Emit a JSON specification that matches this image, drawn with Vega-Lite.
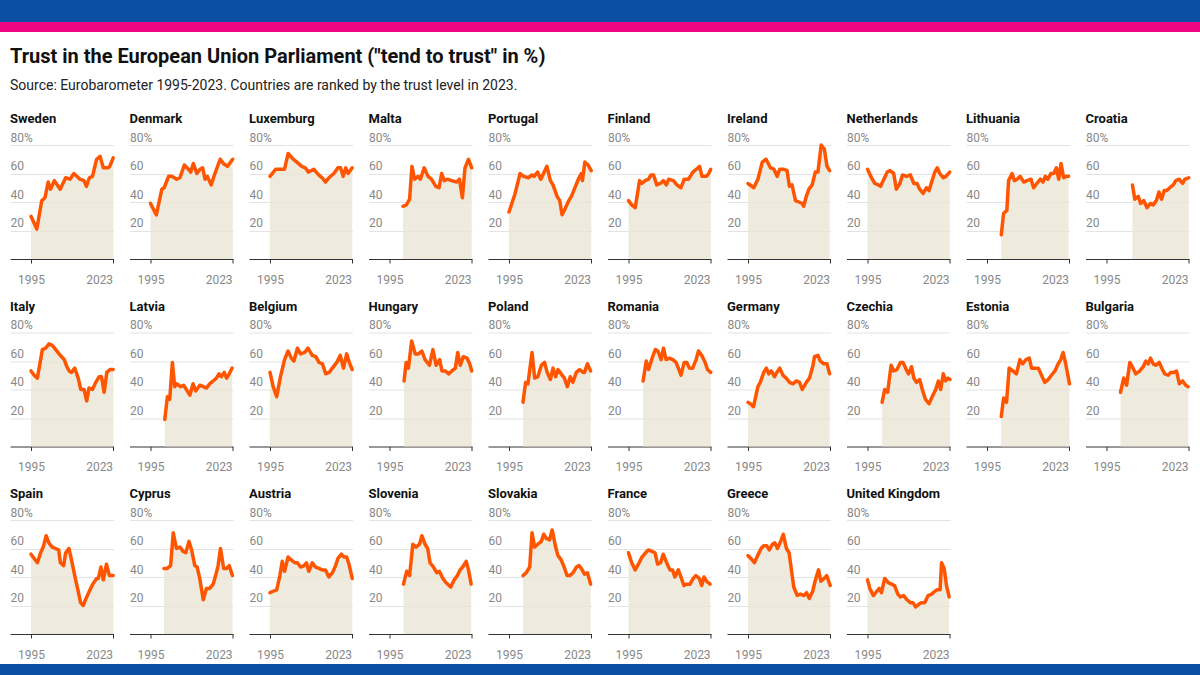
{
"$schema": "https://vega.github.io/schema/vega-lite/v6.json",
"background": "white",
"padding": 0,
"spacing": 0,
"config": {"font": "Roboto", "view": {"stroke": null}},
"vconcat": [
{"width": 1200, "height": 22, "data": {"values": [{"band": "top"}]}, "mark": {"type": "rect", "color": "#0b4ea2"}},
{"width": 1200, "height": 10, "data": {"values": [{"band": "stripe"}]}, "mark": {"type": "rect", "color": "#f0047f"}},
{"width": 1200, "height": 15, "data": {"values": [{"band": "gap"}]}, "mark": {"type": "rect", "opacity": 0}},
{"spacing": 9, "hconcat": [
{"width": 1, "height": 1, "data": {"values": [{"band": "gap"}]}, "mark": {"type": "rect", "opacity": 0}},
{
"title": {"text": "Trust in the European Union Parliament (\"tend to trust\" in %)", "subtitle": "Source: Eurobarometer 1995-2023. Countries are ranked by the trust level in 2023.", "anchor": "start", "font": "Roboto", "fontSize": 20, "fontWeight": "bold", "color": "#111111", "subtitleFont": "Roboto", "subtitleFontSize": 14, "subtitleColor": "#222222", "subtitlePadding": 12, "offset": 20},
"data": {"values": [
{"country":"Sweden","year":1995,"trust":30},{"country":"Sweden","year":1997,"trust":21},{"country":"Sweden","year":1998.7,"trust":41},{"country":"Sweden","year":1999.8,"trust":43},{"country":"Sweden","year":2000.9,"trust":54},{"country":"Sweden","year":2001.7,"trust":49},{"country":"Sweden","year":2003,"trust":55},{"country":"Sweden","year":2005,"trust":49},{"country":"Sweden","year":2006.9,"trust":57},{"country":"Sweden","year":2008.4,"trust":56},{"country":"Sweden","year":2009.7,"trust":60},{"country":"Sweden","year":2011.8,"trust":56},{"country":"Sweden","year":2013.2,"trust":55},{"country":"Sweden","year":2014,"trust":51},{"country":"Sweden","year":2015,"trust":57},{"country":"Sweden","year":2016.1,"trust":58},{"country":"Sweden","year":2017.5,"trust":70},{"country":"Sweden","year":2018.7,"trust":72},{"country":"Sweden","year":2019.8,"trust":64},{"country":"Sweden","year":2021.5,"trust":64},{"country":"Sweden","year":2022,"trust":65},{"country":"Sweden","year":2023.2,"trust":71},
{"country":"Denmark","year":1995,"trust":39},{"country":"Denmark","year":1997,"trust":31},{"country":"Denmark","year":1998.9,"trust":49},{"country":"Denmark","year":1999.7,"trust":50},{"country":"Denmark","year":2001.2,"trust":58},{"country":"Denmark","year":2002.3,"trust":58},{"country":"Denmark","year":2004,"trust":56},{"country":"Denmark","year":2005.1,"trust":57},{"country":"Denmark","year":2006.6,"trust":66},{"country":"Denmark","year":2008,"trust":63},{"country":"Denmark","year":2008.8,"trust":61},{"country":"Denmark","year":2009.7,"trust":67},{"country":"Denmark","year":2010.9,"trust":60},{"country":"Denmark","year":2012,"trust":63},{"country":"Denmark","year":2012.9,"trust":64},{"country":"Denmark","year":2013.7,"trust":56},{"country":"Denmark","year":2014.5,"trust":58},{"country":"Denmark","year":2015.8,"trust":52},{"country":"Denmark","year":2017.1,"trust":60},{"country":"Denmark","year":2018.9,"trust":70},{"country":"Denmark","year":2020,"trust":67},{"country":"Denmark","year":2021.4,"trust":65},{"country":"Denmark","year":2023.2,"trust":70},
{"country":"Luxemburg","year":1995,"trust":58},{"country":"Luxemburg","year":1997,"trust":63},{"country":"Luxemburg","year":1998.1,"trust":63},{"country":"Luxemburg","year":2000,"trust":63},{"country":"Luxemburg","year":2001.2,"trust":74},{"country":"Luxemburg","year":2003,"trust":70},{"country":"Luxemburg","year":2004.2,"trust":68},{"country":"Luxemburg","year":2005.9,"trust":65},{"country":"Luxemburg","year":2007.1,"trust":64},{"country":"Luxemburg","year":2008.2,"trust":61},{"country":"Luxemburg","year":2010,"trust":63},{"country":"Luxemburg","year":2011.7,"trust":59},{"country":"Luxemburg","year":2012.9,"trust":57},{"country":"Luxemburg","year":2014,"trust":54},{"country":"Luxemburg","year":2015.2,"trust":57},{"country":"Luxemburg","year":2016.9,"trust":60},{"country":"Luxemburg","year":2018.3,"trust":64},{"country":"Luxemburg","year":2019.2,"trust":64},{"country":"Luxemburg","year":2020.1,"trust":58},{"country":"Luxemburg","year":2021,"trust":64},{"country":"Luxemburg","year":2021.8,"trust":60},{"country":"Luxemburg","year":2023.2,"trust":64},
{"country":"Malta","year":1999.6,"trust":37},{"country":"Malta","year":2000.8,"trust":38},{"country":"Malta","year":2001.9,"trust":42},{"country":"Malta","year":2002.7,"trust":65},{"country":"Malta","year":2003.6,"trust":56},{"country":"Malta","year":2004.8,"trust":58},{"country":"Malta","year":2005.6,"trust":56},{"country":"Malta","year":2006.9,"trust":64},{"country":"Malta","year":2008.2,"trust":58},{"country":"Malta","year":2009.4,"trust":56},{"country":"Malta","year":2010.9,"trust":51},{"country":"Malta","year":2012,"trust":50},{"country":"Malta","year":2012.9,"trust":60},{"country":"Malta","year":2013.8,"trust":55},{"country":"Malta","year":2014.8,"trust":56},{"country":"Malta","year":2016.3,"trust":55},{"country":"Malta","year":2018,"trust":54},{"country":"Malta","year":2019,"trust":56},{"country":"Malta","year":2020,"trust":43},{"country":"Malta","year":2020.9,"trust":64},{"country":"Malta","year":2022.1,"trust":70},{"country":"Malta","year":2023.2,"trust":64},
{"country":"Portugal","year":1995,"trust":33},{"country":"Portugal","year":1997.1,"trust":46},{"country":"Portugal","year":1998.8,"trust":60},{"country":"Portugal","year":2000,"trust":58},{"country":"Portugal","year":2001.7,"trust":57},{"country":"Portugal","year":2002.8,"trust":59},{"country":"Portugal","year":2003.6,"trust":58},{"country":"Portugal","year":2004.8,"trust":61},{"country":"Portugal","year":2005.9,"trust":56},{"country":"Portugal","year":2008,"trust":65},{"country":"Portugal","year":2009.2,"trust":55},{"country":"Portugal","year":2010.1,"trust":52},{"country":"Portugal","year":2011.5,"trust":44},{"country":"Portugal","year":2012.4,"trust":41},{"country":"Portugal","year":2013.2,"trust":31},{"country":"Portugal","year":2014.4,"trust":36},{"country":"Portugal","year":2015.5,"trust":41},{"country":"Portugal","year":2016.4,"trust":44},{"country":"Portugal","year":2017.8,"trust":51},{"country":"Portugal","year":2019,"trust":57},{"country":"Portugal","year":2019.8,"trust":60},{"country":"Portugal","year":2020.2,"trust":55},{"country":"Portugal","year":2021,"trust":68},{"country":"Portugal","year":2022.1,"trust":66},{"country":"Portugal","year":2023.2,"trust":62},
{"country":"Finland","year":1995,"trust":41},{"country":"Finland","year":1996.1,"trust":38},{"country":"Finland","year":1997.3,"trust":36},{"country":"Finland","year":1998.8,"trust":55},{"country":"Finland","year":1999.6,"trust":53},{"country":"Finland","year":2000.7,"trust":55},{"country":"Finland","year":2001.9,"trust":56},{"country":"Finland","year":2002.7,"trust":59},{"country":"Finland","year":2003.6,"trust":59},{"country":"Finland","year":2004.7,"trust":52},{"country":"Finland","year":2005.9,"trust":53},{"country":"Finland","year":2007,"trust":55},{"country":"Finland","year":2008,"trust":52},{"country":"Finland","year":2008.8,"trust":56},{"country":"Finland","year":2010.4,"trust":55},{"country":"Finland","year":2011.6,"trust":52},{"country":"Finland","year":2013,"trust":50},{"country":"Finland","year":2014.1,"trust":56},{"country":"Finland","year":2015.6,"trust":56},{"country":"Finland","year":2017.1,"trust":61},{"country":"Finland","year":2018.3,"trust":63},{"country":"Finland","year":2019.4,"trust":65},{"country":"Finland","year":2020.2,"trust":58},{"country":"Finland","year":2021.7,"trust":58},{"country":"Finland","year":2022.5,"trust":60},{"country":"Finland","year":2023.2,"trust":63},
{"country":"Ireland","year":1995,"trust":53},{"country":"Ireland","year":1997,"trust":50},{"country":"Ireland","year":1998.4,"trust":56},{"country":"Ireland","year":1999.9,"trust":68},{"country":"Ireland","year":2001.2,"trust":70},{"country":"Ireland","year":2002.7,"trust":64},{"country":"Ireland","year":2003.9,"trust":63},{"country":"Ireland","year":2005,"trust":58},{"country":"Ireland","year":2005.9,"trust":63},{"country":"Ireland","year":2007.3,"trust":63},{"country":"Ireland","year":2008.4,"trust":62},{"country":"Ireland","year":2009.2,"trust":51},{"country":"Ireland","year":2010.1,"trust":52},{"country":"Ireland","year":2011.3,"trust":41},{"country":"Ireland","year":2012.4,"trust":40},{"country":"Ireland","year":2013.6,"trust":39},{"country":"Ireland","year":2014.1,"trust":37},{"country":"Ireland","year":2015,"trust":44},{"country":"Ireland","year":2015.9,"trust":49},{"country":"Ireland","year":2017,"trust":52},{"country":"Ireland","year":2018.1,"trust":61},{"country":"Ireland","year":2019,"trust":61},{"country":"Ireland","year":2020.1,"trust":80},{"country":"Ireland","year":2021.2,"trust":77},{"country":"Ireland","year":2022.1,"trust":65},{"country":"Ireland","year":2023,"trust":62},
{"country":"Netherlands","year":1995,"trust":63},{"country":"Netherlands","year":1996.4,"trust":57},{"country":"Netherlands","year":1997.5,"trust":53},{"country":"Netherlands","year":1998.7,"trust":52},{"country":"Netherlands","year":1999.5,"trust":51},{"country":"Netherlands","year":2000.6,"trust":56},{"country":"Netherlands","year":2001.8,"trust":61},{"country":"Netherlands","year":2002.7,"trust":62},{"country":"Netherlands","year":2004,"trust":60},{"country":"Netherlands","year":2004.9,"trust":49},{"country":"Netherlands","year":2006.1,"trust":53},{"country":"Netherlands","year":2007,"trust":59},{"country":"Netherlands","year":2008.4,"trust":58},{"country":"Netherlands","year":2009.7,"trust":59},{"country":"Netherlands","year":2010.9,"trust":53},{"country":"Netherlands","year":2012,"trust":53},{"country":"Netherlands","year":2012.9,"trust":49},{"country":"Netherlands","year":2014.1,"trust":46},{"country":"Netherlands","year":2015.2,"trust":50},{"country":"Netherlands","year":2016.1,"trust":48},{"country":"Netherlands","year":2017.3,"trust":56},{"country":"Netherlands","year":2018.1,"trust":61},{"country":"Netherlands","year":2018.9,"trust":64},{"country":"Netherlands","year":2019.8,"trust":60},{"country":"Netherlands","year":2021,"trust":57},{"country":"Netherlands","year":2021.9,"trust":58},{"country":"Netherlands","year":2023.2,"trust":61},
{"country":"Lithuania","year":1999.9,"trust":17},{"country":"Lithuania","year":2000.7,"trust":32},{"country":"Lithuania","year":2001.8,"trust":34},{"country":"Lithuania","year":2002.4,"trust":55},{"country":"Lithuania","year":2003.6,"trust":60},{"country":"Lithuania","year":2004.4,"trust":55},{"country":"Lithuania","year":2005.3,"trust":56},{"country":"Lithuania","year":2006.4,"trust":58},{"country":"Lithuania","year":2007.6,"trust":54},{"country":"Lithuania","year":2008.7,"trust":55},{"country":"Lithuania","year":2010.1,"trust":56},{"country":"Lithuania","year":2011,"trust":50},{"country":"Lithuania","year":2012.1,"trust":53},{"country":"Lithuania","year":2013.3,"trust":56},{"country":"Lithuania","year":2014.2,"trust":54},{"country":"Lithuania","year":2015,"trust":58},{"country":"Lithuania","year":2015.9,"trust":56},{"country":"Lithuania","year":2016.9,"trust":60},{"country":"Lithuania","year":2017.9,"trust":60},{"country":"Lithuania","year":2018.8,"trust":64},{"country":"Lithuania","year":2019.6,"trust":56},{"country":"Lithuania","year":2020.4,"trust":67},{"country":"Lithuania","year":2021.3,"trust":57},{"country":"Lithuania","year":2022.2,"trust":58},{"country":"Lithuania","year":2023,"trust":58},
{"country":"Croatia","year":2003.9,"trust":52},{"country":"Croatia","year":2004.7,"trust":42},{"country":"Croatia","year":2005.9,"trust":44},{"country":"Croatia","year":2006.7,"trust":39},{"country":"Croatia","year":2007.8,"trust":41},{"country":"Croatia","year":2008.9,"trust":36},{"country":"Croatia","year":2010.1,"trust":39},{"country":"Croatia","year":2011,"trust":38},{"country":"Croatia","year":2012.1,"trust":41},{"country":"Croatia","year":2013,"trust":47},{"country":"Croatia","year":2013.9,"trust":42},{"country":"Croatia","year":2014.8,"trust":48},{"country":"Croatia","year":2015.6,"trust":48},{"country":"Croatia","year":2016.7,"trust":50},{"country":"Croatia","year":2017.9,"trust":52},{"country":"Croatia","year":2018.8,"trust":55},{"country":"Croatia","year":2019.9,"trust":56},{"country":"Croatia","year":2021.1,"trust":53},{"country":"Croatia","year":2021.9,"trust":56},{"country":"Croatia","year":2023.2,"trust":57},
{"country":"Italy","year":1995,"trust":53},{"country":"Italy","year":1996.1,"trust":50},{"country":"Italy","year":1997.2,"trust":48},{"country":"Italy","year":1998.9,"trust":68},{"country":"Italy","year":2000,"trust":69},{"country":"Italy","year":2001.2,"trust":72},{"country":"Italy","year":2002.3,"trust":71},{"country":"Italy","year":2003.5,"trust":68},{"country":"Italy","year":2005,"trust":64},{"country":"Italy","year":2006.4,"trust":61},{"country":"Italy","year":2007.3,"trust":56},{"country":"Italy","year":2008.1,"trust":53},{"country":"Italy","year":2008.9,"trust":52},{"country":"Italy","year":2010,"trust":55},{"country":"Italy","year":2011.2,"trust":48},{"country":"Italy","year":2012.1,"trust":40},{"country":"Italy","year":2013.2,"trust":40},{"country":"Italy","year":2014.1,"trust":32},{"country":"Italy","year":2014.9,"trust":41},{"country":"Italy","year":2016.1,"trust":40},{"country":"Italy","year":2017.2,"trust":45},{"country":"Italy","year":2018.4,"trust":49},{"country":"Italy","year":2019.2,"trust":49},{"country":"Italy","year":2020.1,"trust":38},{"country":"Italy","year":2021,"trust":52},{"country":"Italy","year":2022.1,"trust":54},{"country":"Italy","year":2023.2,"trust":54},
{"country":"Latvia","year":1999.9,"trust":19},{"country":"Latvia","year":2000.8,"trust":35},{"country":"Latvia","year":2001.6,"trust":33},{"country":"Latvia","year":2002.5,"trust":59},{"country":"Latvia","year":2003.3,"trust":42},{"country":"Latvia","year":2004.1,"trust":44},{"country":"Latvia","year":2005.3,"trust":42},{"country":"Latvia","year":2006.4,"trust":43},{"country":"Latvia","year":2007.6,"trust":39},{"country":"Latvia","year":2008.5,"trust":36},{"country":"Latvia","year":2009.6,"trust":44},{"country":"Latvia","year":2010.5,"trust":39},{"country":"Latvia","year":2011.9,"trust":43},{"country":"Latvia","year":2013.1,"trust":42},{"country":"Latvia","year":2014.2,"trust":41},{"country":"Latvia","year":2015.3,"trust":44},{"country":"Latvia","year":2016.5,"trust":46},{"country":"Latvia","year":2017.6,"trust":48},{"country":"Latvia","year":2018.5,"trust":51},{"country":"Latvia","year":2019.3,"trust":49},{"country":"Latvia","year":2020.3,"trust":52},{"country":"Latvia","year":2021.1,"trust":48},{"country":"Latvia","year":2022,"trust":51},{"country":"Latvia","year":2023,"trust":55},
{"country":"Belgium","year":1995,"trust":52},{"country":"Belgium","year":1996.1,"trust":42},{"country":"Belgium","year":1997.3,"trust":35},{"country":"Belgium","year":1998.6,"trust":49},{"country":"Belgium","year":2000,"trust":61},{"country":"Belgium","year":2001.2,"trust":67},{"country":"Belgium","year":2002.3,"trust":62},{"country":"Belgium","year":2003.2,"trust":60},{"country":"Belgium","year":2004.4,"trust":69},{"country":"Belgium","year":2005.5,"trust":65},{"country":"Belgium","year":2006.9,"trust":66},{"country":"Belgium","year":2008,"trust":69},{"country":"Belgium","year":2009.5,"trust":64},{"country":"Belgium","year":2010.7,"trust":63},{"country":"Belgium","year":2011.8,"trust":59},{"country":"Belgium","year":2013,"trust":58},{"country":"Belgium","year":2014.1,"trust":51},{"country":"Belgium","year":2015.3,"trust":52},{"country":"Belgium","year":2016.4,"trust":55},{"country":"Belgium","year":2017.9,"trust":59},{"country":"Belgium","year":2019.1,"trust":64},{"country":"Belgium","year":2020.2,"trust":55},{"country":"Belgium","year":2021.3,"trust":65},{"country":"Belgium","year":2022.2,"trust":59},{"country":"Belgium","year":2023.2,"trust":54},
{"country":"Hungary","year":2000,"trust":46},{"country":"Hungary","year":2000.7,"trust":59},{"country":"Hungary","year":2001.5,"trust":55},{"country":"Hungary","year":2002.6,"trust":74},{"country":"Hungary","year":2003.8,"trust":65},{"country":"Hungary","year":2004.9,"trust":65},{"country":"Hungary","year":2006.1,"trust":67},{"country":"Hungary","year":2007.2,"trust":61},{"country":"Hungary","year":2008.7,"trust":57},{"country":"Hungary","year":2009.9,"trust":68},{"country":"Hungary","year":2011,"trust":57},{"country":"Hungary","year":2012.2,"trust":61},{"country":"Hungary","year":2013,"trust":53},{"country":"Hungary","year":2014.1,"trust":53},{"country":"Hungary","year":2015.3,"trust":51},{"country":"Hungary","year":2016.4,"trust":53},{"country":"Hungary","year":2017.6,"trust":55},{"country":"Hungary","year":2018.4,"trust":66},{"country":"Hungary","year":2019.3,"trust":57},{"country":"Hungary","year":2020.3,"trust":63},{"country":"Hungary","year":2021.6,"trust":62},{"country":"Hungary","year":2022.5,"trust":58},{"country":"Hungary","year":2023.2,"trust":53},
{"country":"Poland","year":1999.8,"trust":31},{"country":"Poland","year":2000.7,"trust":45},{"country":"Poland","year":2001.5,"trust":44},{"country":"Poland","year":2002.9,"trust":66},{"country":"Poland","year":2003.8,"trust":48},{"country":"Poland","year":2004.9,"trust":49},{"country":"Poland","year":2006.1,"trust":57},{"country":"Poland","year":2007.2,"trust":59},{"country":"Poland","year":2008.1,"trust":52},{"country":"Poland","year":2009.2,"trust":47},{"country":"Poland","year":2010.1,"trust":55},{"country":"Poland","year":2011,"trust":49},{"country":"Poland","year":2011.8,"trust":54},{"country":"Poland","year":2012.9,"trust":51},{"country":"Poland","year":2014,"trust":48},{"country":"Poland","year":2015,"trust":42},{"country":"Poland","year":2016,"trust":49},{"country":"Poland","year":2016.9,"trust":45},{"country":"Poland","year":2018.1,"trust":52},{"country":"Poland","year":2019.2,"trust":54},{"country":"Poland","year":2020.4,"trust":52},{"country":"Poland","year":2020.9,"trust":52},{"country":"Poland","year":2021.9,"trust":58},{"country":"Poland","year":2023,"trust":53},
{"country":"Romania","year":2000,"trust":46},{"country":"Romania","year":2001.1,"trust":60},{"country":"Romania","year":2001.9,"trust":54},{"country":"Romania","year":2003.1,"trust":62},{"country":"Romania","year":2004.2,"trust":68},{"country":"Romania","year":2005.1,"trust":67},{"country":"Romania","year":2006.2,"trust":61},{"country":"Romania","year":2007,"trust":69},{"country":"Romania","year":2007.9,"trust":61},{"country":"Romania","year":2009,"trust":62},{"country":"Romania","year":2010.2,"trust":61},{"country":"Romania","year":2011.3,"trust":59},{"country":"Romania","year":2012.1,"trust":55},{"country":"Romania","year":2013,"trust":50},{"country":"Romania","year":2014.1,"trust":59},{"country":"Romania","year":2015,"trust":59},{"country":"Romania","year":2015.9,"trust":55},{"country":"Romania","year":2017,"trust":55},{"country":"Romania","year":2018.2,"trust":61},{"country":"Romania","year":2019,"trust":67},{"country":"Romania","year":2020.1,"trust":64},{"country":"Romania","year":2021.3,"trust":59},{"country":"Romania","year":2022.1,"trust":54},{"country":"Romania","year":2023.2,"trust":52},
{"country":"Germany","year":1995,"trust":31},{"country":"Germany","year":1995.8,"trust":30},{"country":"Germany","year":1996.9,"trust":28},{"country":"Germany","year":1998.4,"trust":42},{"country":"Germany","year":1999.2,"trust":45},{"country":"Germany","year":2000.4,"trust":52},{"country":"Germany","year":2001.3,"trust":55},{"country":"Germany","year":2002.1,"trust":51},{"country":"Germany","year":2003,"trust":53},{"country":"Germany","year":2004.1,"trust":49},{"country":"Germany","year":2004.9,"trust":52},{"country":"Germany","year":2005.9,"trust":55},{"country":"Germany","year":2007,"trust":50},{"country":"Germany","year":2008.1,"trust":48},{"country":"Germany","year":2009.3,"trust":45},{"country":"Germany","year":2010.4,"trust":44},{"country":"Germany","year":2011.6,"trust":46},{"country":"Germany","year":2012.7,"trust":45},{"country":"Germany","year":2013.6,"trust":40},{"country":"Germany","year":2015,"trust":45},{"country":"Germany","year":2016.1,"trust":48},{"country":"Germany","year":2017.3,"trust":57},{"country":"Germany","year":2017.8,"trust":63},{"country":"Germany","year":2019,"trust":64},{"country":"Germany","year":2019.8,"trust":60},{"country":"Germany","year":2021,"trust":58},{"country":"Germany","year":2022.1,"trust":58},{"country":"Germany","year":2023,"trust":51},
{"country":"Czechia","year":2000,"trust":31},{"country":"Czechia","year":2000.9,"trust":40},{"country":"Czechia","year":2001.9,"trust":38},{"country":"Czechia","year":2003.1,"trust":57},{"country":"Czechia","year":2004,"trust":53},{"country":"Czechia","year":2005.1,"trust":54},{"country":"Czechia","year":2006.3,"trust":59},{"country":"Czechia","year":2007.2,"trust":59},{"country":"Czechia","year":2008.3,"trust":54},{"country":"Czechia","year":2009.1,"trust":51},{"country":"Czechia","year":2010.1,"trust":56},{"country":"Czechia","year":2010.9,"trust":48},{"country":"Czechia","year":2011.8,"trust":45},{"country":"Czechia","year":2012.9,"trust":47},{"country":"Czechia","year":2013.8,"trust":40},{"country":"Czechia","year":2014.9,"trust":33},{"country":"Czechia","year":2016.1,"trust":30},{"country":"Czechia","year":2017.2,"trust":35},{"country":"Czechia","year":2018.4,"trust":40},{"country":"Czechia","year":2019.3,"trust":46},{"country":"Czechia","year":2020.1,"trust":40},{"country":"Czechia","year":2021,"trust":51},{"country":"Czechia","year":2021.8,"trust":46},{"country":"Czechia","year":2022.6,"trust":48},{"country":"Czechia","year":2023.3,"trust":47},
{"country":"Estonia","year":1999.9,"trust":21},{"country":"Estonia","year":2000.7,"trust":34},{"country":"Estonia","year":2001.7,"trust":31},{"country":"Estonia","year":2002.6,"trust":55},{"country":"Estonia","year":2003.9,"trust":53},{"country":"Estonia","year":2005.1,"trust":51},{"country":"Estonia","year":2006.3,"trust":61},{"country":"Estonia","year":2007.2,"trust":58},{"country":"Estonia","year":2008.4,"trust":61},{"country":"Estonia","year":2009.5,"trust":62},{"country":"Estonia","year":2010.3,"trust":55},{"country":"Estonia","year":2011.4,"trust":55},{"country":"Estonia","year":2012.6,"trust":55},{"country":"Estonia","year":2013.7,"trust":50},{"country":"Estonia","year":2014.8,"trust":45},{"country":"Estonia","year":2016,"trust":47},{"country":"Estonia","year":2017.1,"trust":50},{"country":"Estonia","year":2018.3,"trust":53},{"country":"Estonia","year":2019.4,"trust":58},{"country":"Estonia","year":2020.3,"trust":61},{"country":"Estonia","year":2021.1,"trust":66},{"country":"Estonia","year":2022,"trust":58},{"country":"Estonia","year":2023.3,"trust":44},
{"country":"Bulgaria","year":1999.8,"trust":38},{"country":"Bulgaria","year":2000.9,"trust":48},{"country":"Bulgaria","year":2001.9,"trust":43},{"country":"Bulgaria","year":2003,"trust":59},{"country":"Bulgaria","year":2004.1,"trust":55},{"country":"Bulgaria","year":2005,"trust":51},{"country":"Bulgaria","year":2006.4,"trust":53},{"country":"Bulgaria","year":2007.6,"trust":56},{"country":"Bulgaria","year":2008.5,"trust":60},{"country":"Bulgaria","year":2009.3,"trust":58},{"country":"Bulgaria","year":2010.1,"trust":62},{"country":"Bulgaria","year":2011,"trust":58},{"country":"Bulgaria","year":2011.9,"trust":57},{"country":"Bulgaria","year":2013.1,"trust":59},{"country":"Bulgaria","year":2014.2,"trust":54},{"country":"Bulgaria","year":2015,"trust":51},{"country":"Bulgaria","year":2016.2,"trust":50},{"country":"Bulgaria","year":2017,"trust":52},{"country":"Bulgaria","year":2018.1,"trust":52},{"country":"Bulgaria","year":2019,"trust":53},{"country":"Bulgaria","year":2020,"trust":44},{"country":"Bulgaria","year":2021.1,"trust":46},{"country":"Bulgaria","year":2022.2,"trust":43},{"country":"Bulgaria","year":2023,"trust":42},
{"country":"Spain","year":1995,"trust":56},{"country":"Spain","year":1996.1,"trust":53},{"country":"Spain","year":1997.2,"trust":50},{"country":"Spain","year":1998.3,"trust":57},{"country":"Spain","year":1999.2,"trust":61},{"country":"Spain","year":2000.2,"trust":69},{"country":"Spain","year":2001.1,"trust":64},{"country":"Spain","year":2002.3,"trust":61},{"country":"Spain","year":2003.4,"trust":60},{"country":"Spain","year":2004.5,"trust":59},{"country":"Spain","year":2005.1,"trust":50},{"country":"Spain","year":2006.2,"trust":48},{"country":"Spain","year":2006.9,"trust":57},{"country":"Spain","year":2008,"trust":60},{"country":"Spain","year":2008.9,"trust":52},{"country":"Spain","year":2010.1,"trust":40},{"country":"Spain","year":2011.2,"trust":30},{"country":"Spain","year":2012,"trust":22},{"country":"Spain","year":2012.9,"trust":20},{"country":"Spain","year":2013.9,"trust":25},{"country":"Spain","year":2015,"trust":30},{"country":"Spain","year":2016.2,"trust":35},{"country":"Spain","year":2017.5,"trust":39},{"country":"Spain","year":2018.1,"trust":39},{"country":"Spain","year":2019,"trust":47},{"country":"Spain","year":2019.8,"trust":38},{"country":"Spain","year":2020.9,"trust":49},{"country":"Spain","year":2021.9,"trust":41},{"country":"Spain","year":2023.2,"trust":41},
{"country":"Cyprus","year":1999.6,"trust":46},{"country":"Cyprus","year":2000.7,"trust":46},{"country":"Cyprus","year":2001.9,"trust":48},{"country":"Cyprus","year":2002.8,"trust":71},{"country":"Cyprus","year":2003.9,"trust":60},{"country":"Cyprus","year":2005.1,"trust":61},{"country":"Cyprus","year":2006.2,"trust":58},{"country":"Cyprus","year":2007.1,"trust":57},{"country":"Cyprus","year":2008.2,"trust":65},{"country":"Cyprus","year":2009.1,"trust":59},{"country":"Cyprus","year":2010.2,"trust":48},{"country":"Cyprus","year":2011,"trust":47},{"country":"Cyprus","year":2011.9,"trust":39},{"country":"Cyprus","year":2013.1,"trust":24},{"country":"Cyprus","year":2014.2,"trust":32},{"country":"Cyprus","year":2015.3,"trust":32},{"country":"Cyprus","year":2016.5,"trust":35},{"country":"Cyprus","year":2017.6,"trust":43},{"country":"Cyprus","year":2018.2,"trust":48},{"country":"Cyprus","year":2019,"trust":60},{"country":"Cyprus","year":2020.1,"trust":46},{"country":"Cyprus","year":2021.1,"trust":46},{"country":"Cyprus","year":2022,"trust":48},{"country":"Cyprus","year":2023.1,"trust":41},
{"country":"Austria","year":1995,"trust":29},{"country":"Austria","year":1996.1,"trust":30},{"country":"Austria","year":1997.3,"trust":31},{"country":"Austria","year":1998.4,"trust":41},{"country":"Austria","year":1999.2,"trust":51},{"country":"Austria","year":2000,"trust":44},{"country":"Austria","year":2001.2,"trust":54},{"country":"Austria","year":2002.3,"trust":52},{"country":"Austria","year":2003.5,"trust":50},{"country":"Austria","year":2004.4,"trust":50},{"country":"Austria","year":2005.5,"trust":47},{"country":"Austria","year":2006.7,"trust":48},{"country":"Austria","year":2007.5,"trust":50},{"country":"Austria","year":2008.3,"trust":44},{"country":"Austria","year":2009.5,"trust":50},{"country":"Austria","year":2010.6,"trust":47},{"country":"Austria","year":2011.8,"trust":46},{"country":"Austria","year":2012.9,"trust":45},{"country":"Austria","year":2014,"trust":45},{"country":"Austria","year":2015.2,"trust":40},{"country":"Austria","year":2016.4,"trust":43},{"country":"Austria","year":2017.5,"trust":48},{"country":"Austria","year":2018.3,"trust":53},{"country":"Austria","year":2019.5,"trust":56},{"country":"Austria","year":2020.4,"trust":54},{"country":"Austria","year":2021.3,"trust":54},{"country":"Austria","year":2022.1,"trust":49},{"country":"Austria","year":2023.2,"trust":39},
{"country":"Slovenia","year":1999.8,"trust":35},{"country":"Slovenia","year":2000.9,"trust":44},{"country":"Slovenia","year":2001.9,"trust":41},{"country":"Slovenia","year":2003,"trust":63},{"country":"Slovenia","year":2004.1,"trust":61},{"country":"Slovenia","year":2005.3,"trust":63},{"country":"Slovenia","year":2006.1,"trust":69},{"country":"Slovenia","year":2007.2,"trust":63},{"country":"Slovenia","year":2008.1,"trust":60},{"country":"Slovenia","year":2008.9,"trust":50},{"country":"Slovenia","year":2010.1,"trust":47},{"country":"Slovenia","year":2011.2,"trust":43},{"country":"Slovenia","year":2012.1,"trust":44},{"country":"Slovenia","year":2013.3,"trust":39},{"country":"Slovenia","year":2014.4,"trust":36},{"country":"Slovenia","year":2016,"trust":33},{"country":"Slovenia","year":2017.2,"trust":38},{"country":"Slovenia","year":2018.3,"trust":41},{"country":"Slovenia","year":2019.2,"trust":45},{"country":"Slovenia","year":2020.1,"trust":47},{"country":"Slovenia","year":2021.3,"trust":51},{"country":"Slovenia","year":2022.1,"trust":45},{"country":"Slovenia","year":2023,"trust":35},
{"country":"Slovakia","year":1999.8,"trust":41},{"country":"Slovakia","year":2000.9,"trust":43},{"country":"Slovakia","year":2002.1,"trust":47},{"country":"Slovakia","year":2002.9,"trust":71},{"country":"Slovakia","year":2003.8,"trust":61},{"country":"Slovakia","year":2004.9,"trust":63},{"country":"Slovakia","year":2006.1,"trust":65},{"country":"Slovakia","year":2006.9,"trust":70},{"country":"Slovakia","year":2007.8,"trust":67},{"country":"Slovakia","year":2008.9,"trust":66},{"country":"Slovakia","year":2009.8,"trust":73},{"country":"Slovakia","year":2011,"trust":61},{"country":"Slovakia","year":2011.8,"trust":55},{"country":"Slovakia","year":2012.9,"trust":52},{"country":"Slovakia","year":2014.1,"trust":46},{"country":"Slovakia","year":2014.9,"trust":41},{"country":"Slovakia","year":2015.8,"trust":41},{"country":"Slovakia","year":2017,"trust":43},{"country":"Slovakia","year":2018.1,"trust":47},{"country":"Slovakia","year":2019,"trust":48},{"country":"Slovakia","year":2019.8,"trust":46},{"country":"Slovakia","year":2020.9,"trust":42},{"country":"Slovakia","year":2021.9,"trust":43},{"country":"Slovakia","year":2023,"trust":35},
{"country":"France","year":1995,"trust":57},{"country":"France","year":1996.1,"trust":50},{"country":"France","year":1997.3,"trust":45},{"country":"France","year":1998.4,"trust":49},{"country":"France","year":1999.6,"trust":54},{"country":"France","year":2000.9,"trust":57},{"country":"France","year":2001.8,"trust":59},{"country":"France","year":2003,"trust":58},{"country":"France","year":2004.1,"trust":57},{"country":"France","year":2005,"trust":49},{"country":"France","year":2006,"trust":50},{"country":"France","year":2006.9,"trust":56},{"country":"France","year":2008.1,"trust":50},{"country":"France","year":2009.2,"trust":45},{"country":"France","year":2010.1,"trust":45},{"country":"France","year":2010.9,"trust":40},{"country":"France","year":2012.1,"trust":45},{"country":"France","year":2013,"trust":40},{"country":"France","year":2014,"trust":34},{"country":"France","year":2014.9,"trust":35},{"country":"France","year":2016.1,"trust":35},{"country":"France","year":2017.2,"trust":39},{"country":"France","year":2018.1,"trust":41},{"country":"France","year":2019.3,"trust":39},{"country":"France","year":2020.1,"trust":34},{"country":"France","year":2020.9,"trust":40},{"country":"France","year":2021.8,"trust":37},{"country":"France","year":2023,"trust":35},
{"country":"Greece","year":1995,"trust":55},{"country":"Greece","year":1996,"trust":53},{"country":"Greece","year":1997.2,"trust":50},{"country":"Greece","year":1998.3,"trust":55},{"country":"Greece","year":1999.5,"trust":60},{"country":"Greece","year":2000.4,"trust":62},{"country":"Greece","year":2001.4,"trust":62},{"country":"Greece","year":2002.3,"trust":59},{"country":"Greece","year":2003.4,"trust":63},{"country":"Greece","year":2004.2,"trust":64},{"country":"Greece","year":2005.1,"trust":60},{"country":"Greece","year":2006.2,"trust":65},{"country":"Greece","year":2007.1,"trust":70},{"country":"Greece","year":2008.2,"trust":60},{"country":"Greece","year":2009.1,"trust":57},{"country":"Greece","year":2009.9,"trust":45},{"country":"Greece","year":2010.7,"trust":33},{"country":"Greece","year":2011.9,"trust":27},{"country":"Greece","year":2013,"trust":28},{"country":"Greece","year":2014.2,"trust":27},{"country":"Greece","year":2015.1,"trust":29},{"country":"Greece","year":2016,"trust":25},{"country":"Greece","year":2017.2,"trust":30},{"country":"Greece","year":2018,"trust":37},{"country":"Greece","year":2019.2,"trust":45},{"country":"Greece","year":2020,"trust":37},{"country":"Greece","year":2021.1,"trust":39},{"country":"Greece","year":2022,"trust":41},{"country":"Greece","year":2023.2,"trust":34},
{"country":"United Kingdom","year":1995,"trust":38},{"country":"United Kingdom","year":1995.8,"trust":32},{"country":"United Kingdom","year":1997,"trust":27},{"country":"United Kingdom","year":1998.2,"trust":30},{"country":"United Kingdom","year":1999,"trust":32},{"country":"United Kingdom","year":1999.8,"trust":29},{"country":"United Kingdom","year":2000.9,"trust":39},{"country":"United Kingdom","year":2002.1,"trust":36},{"country":"United Kingdom","year":2003.2,"trust":35},{"country":"United Kingdom","year":2004.3,"trust":34},{"country":"United Kingdom","year":2005.4,"trust":28},{"country":"United Kingdom","year":2006.3,"trust":26},{"country":"United Kingdom","year":2007.4,"trust":27},{"country":"United Kingdom","year":2008.6,"trust":24},{"country":"United Kingdom","year":2009.7,"trust":22},{"country":"United Kingdom","year":2010.6,"trust":22},{"country":"United Kingdom","year":2011.5,"trust":19},{"country":"United Kingdom","year":2012.7,"trust":21},{"country":"United Kingdom","year":2013.5,"trust":22},{"country":"United Kingdom","year":2014.6,"trust":22},{"country":"United Kingdom","year":2015.8,"trust":27},{"country":"United Kingdom","year":2017,"trust":28},{"country":"United Kingdom","year":2018.1,"trust":30},{"country":"United Kingdom","year":2018.9,"trust":31},{"country":"United Kingdom","year":2019.9,"trust":31},{"country":"United Kingdom","year":2020.4,"trust":50},{"country":"United Kingdom","year":2021.3,"trust":46},{"country":"United Kingdom","year":2022.1,"trust":34},{"country":"United Kingdom","year":2023,"trust":26}
]},
"facet": {"field": "country", "type": "nominal", "sort": ["Sweden","Denmark","Luxemburg","Malta","Portugal","Finland","Ireland","Netherlands","Lithuania","Croatia","Italy","Latvia","Belgium","Hungary","Poland","Romania","Germany","Czechia","Estonia","Bulgaria","Spain","Cyprus","Austria","Slovenia","Slovakia","France","Greece","United Kingdom"],
 "header": {"title": null, "labelAnchor": "start", "labelAlign": "left", "labelFont": "Roboto", "labelFontSize": 13, "labelFontWeight": "bold", "labelColor": "#111111", "labelPadding": 5}},
"columns": 10,
"spacing": {"row": 15.5, "column": 13.5},
"resolve": {"axis": {"x": "independent", "y": "independent"}},
"spec": {
 "width": 103.5,
 "height": 114,
 "encoding": {
  "x": {"field": "year", "type": "quantitative", "scale": {"domain": [1987.8, 2023.3], "nice": false, "zero": false},
        "axis": {"values": [1995, 2023], "format": "d", "grid": false, "title": null, "domainColor": "#333333", "domainWidth": 1, "tickColor": "#333333", "tickSize": 4, "labelColor": "#888888", "labelFont": "Roboto", "labelFontSize": 12, "labelPadding": 11, "labelFlush": 2}},
  "y": {"field": "trust", "type": "quantitative", "scale": {"domain": [0, 80], "nice": false},
        "axis": {"values": [20, 40, 60, 80], "title": null, "domain": false, "ticks": false, "grid": true, "gridColor": "#e3e3e3", "gridWidth": 1, "labelAlign": "left", "labelBaseline": "alphabetic", "labelPadding": 0, "labelOffset": -4, "labelColor": "#888888", "labelFont": "Roboto", "labelFontSize": 12, "labelExpr": "datum.value == 80 ? '80%' : datum.label"}}
 },
 "layer": [
  {"mark": {"type": "area", "color": "#eae5d5", "opacity": 0.8}},
  {"mark": {"type": "line", "color": "#ff5500", "strokeWidth": 3.5, "strokeJoin": "round", "strokeCap": "round"}}
 ]
}
}
]},
{"width": 1200, "height": 4, "data": {"values": [{"band": "gap"}]}, "mark": {"type": "rect", "opacity": 0}},
{"width": 1200, "height": 13, "data": {"values": [{"band": "bottom"}]}, "mark": {"type": "rect", "color": "#0b4ea2"}}
]
}
